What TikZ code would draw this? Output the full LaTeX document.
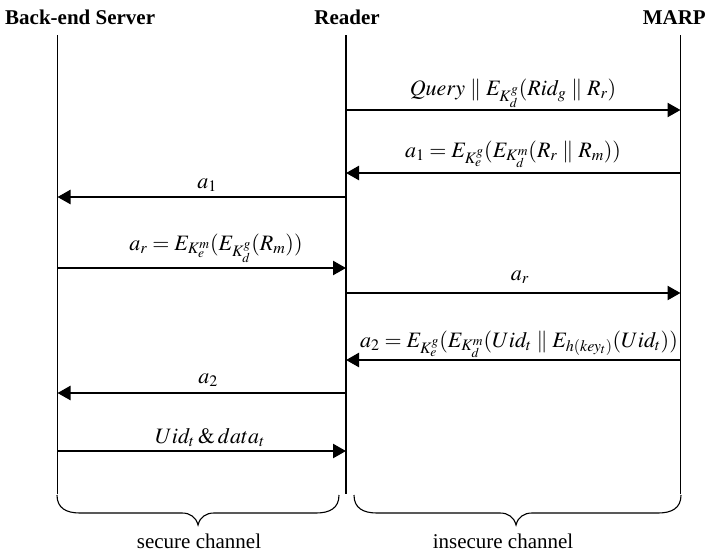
\documentclass[tikz,border=0pt]{standalone}
\usepackage{mathptmx}
\usepackage{fontspec}
\setmainfont{Liberation Serif}
\DeclareMathSizes{22}{22}{16}{13.5}
\usetikzlibrary{arrows.meta}
\tikzset{
  lifeline/.style={line width=1.8pt},
  msg/.style={line width=2.4pt,-{Triangle[length=13pt,width=14pt]}},
  lbl/.style={anchor=base,inner sep=0pt,font=\fontsize{22}{26}\selectfont},
  hdr/.style={anchor=base,inner sep=0pt,font=\fontsize{21}{25}\selectfont\bfseries},
  chan/.style={anchor=base,inner sep=0pt,font=\fontsize{21}{25}\selectfont},
  bracestyle/.style={line width=1.1pt}
}
\begin{document}
\begin{tikzpicture}[x=1pt,y=-1pt]
\useasboundingbox (0,0) rectangle (708,554);
% headers
\node[hdr,anchor=base west] (hS) at (5,24) {Back-end Server};
\node[hdr] (hR) at (347,24) {Reader};
\node[hdr,anchor=base east] (hM) at (706,24) {MARP};
% lifelines
\coordinate (Stop) at (57.5,35);
\coordinate (Sbot) at (57.5,494);
\coordinate (Rtop) at (346,35);
\coordinate (Rbot) at (346,494);
\coordinate (Mtop) at (680.5,35);
\coordinate (Mbot) at (680.5,494);
\draw[lifeline] (Stop) -- (Sbot);
\draw[lifeline] (Rtop) -- (Rbot);
\draw[lifeline] (Mtop) -- (Mbot);
% message endpoints
\foreach \n/\y in {1/110,2/173,3/197,4/268,5/293,6/360,7/393,8/451}{
  \coordinate (S\n) at (57.5,\y);
  \coordinate (R\n) at (346,\y);
  \coordinate (M\n) at (680.5,\y);
}
\draw[msg] (R1) -- (M1);
\draw[msg] (M2) -- (R2);
\draw[msg] (R3) -- (S3);
\draw[msg] (S4) -- (R4);
\draw[msg] (R5) -- (M5);
\draw[msg] (M6) -- (R6);
\draw[msg] (R7) -- (S7);
\draw[msg] (S8) -- (R8);
% labels
\node[lbl] (l1) at (513,95) {$Query \parallel E_{K_d^g}(Rid_g \parallel R_r)$};
\node[lbl] (l2) at (513,157) {$a_1 = E_{K_e^g}(E_{K_d^m}(R_r \parallel R_m))$};
\node[lbl] (l3) at (207,188) {$a_1$};
\node[lbl] (l4) at (216,250) {$a_r = E_{K_e^m}(E_{K_d^g}(R_m))$};
\node[lbl] (l5) at (520,280) {$a_r$};
\node[lbl] (l6) at (519,347) {$a_2 = E_{K_e^g}(E_{K_d^m}(Uid_t \parallel E_{h(key_t)}(Uid_t))$};
\node[lbl] (l7) at (208,383) {$a_2$};
\node[lbl] (l8) at (210,443) {$Uid_t \mathbin{\&} data_t$};
% braces
\draw[bracestyle] (57,495) .. controls (57,508) and (66,513) .. (80,513) -- (182,513)
  .. controls (190,513) and (196,517) .. (198,525)
  .. controls (200,517) and (206,513) .. (214,513) -- (316,513)
  .. controls (330,513) and (339,508) .. (339,495);
\draw[bracestyle] (354,495) .. controls (354,508) and (363,513) .. (377,513) -- (500,513)
  .. controls (508,513) and (514,517) .. (516,525)
  .. controls (518,517) and (524,513) .. (532,513) -- (658,513)
  .. controls (672,513) and (681,508) .. (681,495);
\node[chan] (c1) at (199,548) {secure channel};
\node[chan] (c2) at (503,548) {insecure channel};
\end{tikzpicture}
\end{document}
